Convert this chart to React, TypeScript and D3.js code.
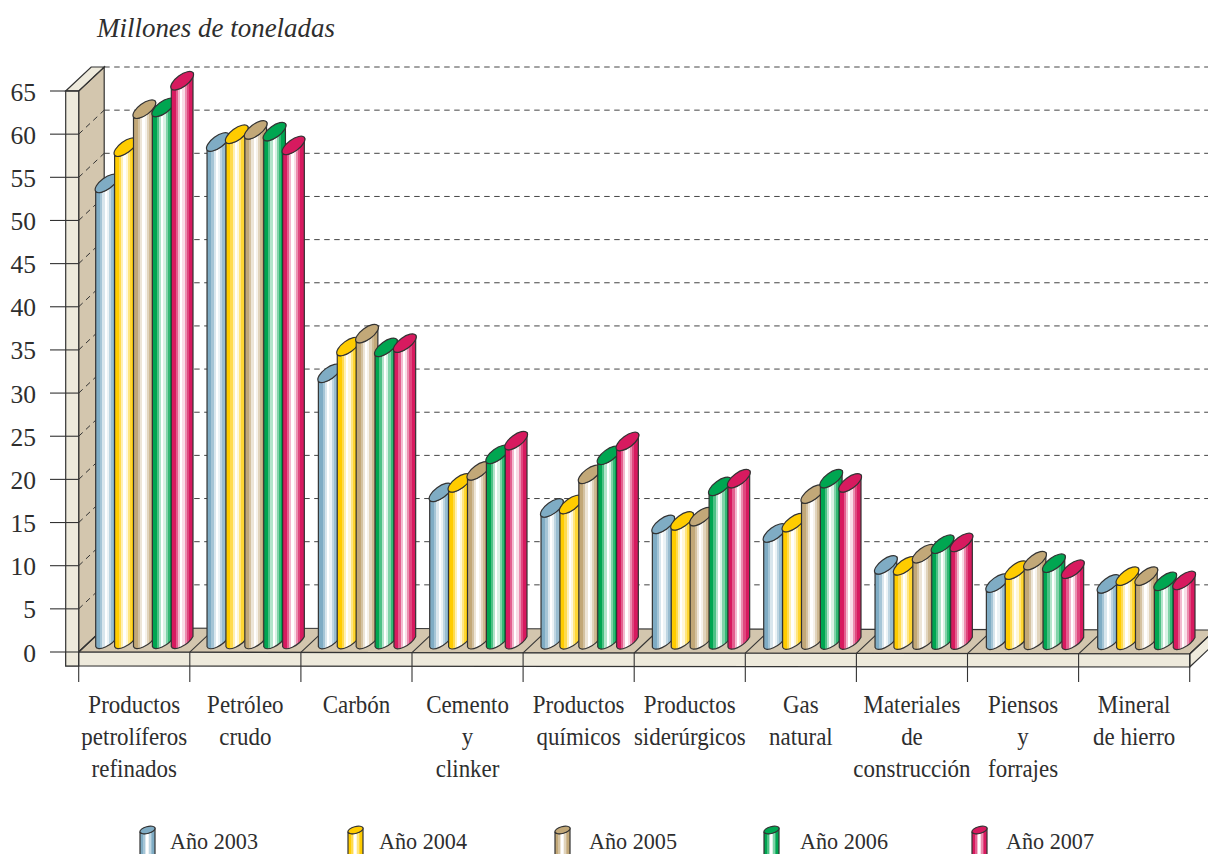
import React from "react";
import * as d3 from "d3";

const categories: string[][] = [
  ["Productos", "petrolíferos", "refinados"],
  ["Petróleo", "crudo"],
  ["Carbón"],
  ["Cemento", "y", "clinker"],
  ["Productos", "químicos"],
  ["Productos", "siderúrgicos"],
  ["Gas", "natural"],
  ["Materiales", "de", "construcción"],
  ["Piensos", "y", "forrajes"],
  ["Mineral", "de hierro"],
];
const years = ["Año 2003", "Año 2004", "Año 2005", "Año 2006", "Año 2007"];
const colors = ["#7FACC4", "#FFCC00", "#C2A878", "#00A651", "#D71A5F"];
const legendIconX = [140, 348, 555, 764, 972];
const legendTextX = [170, 379, 589, 800, 1006];

const v2003 = [52.9, 57.7, 30.9, 17.1, 15.3, 13.4, 12.4, 8.7, 6.6, 6.5];
const v2004 = [57.1, 58.6, 34.0, 18.2, 15.7, 13.8, 13.6, 8.6, 8.1, 7.4];
const v2005 = [61.5, 59.1, 35.5, 19.6, 19.2, 14.3, 16.9, 10.0, 9.2, 7.4];
const v2006 = [61.7, 58.9, 33.9, 21.5, 21.4, 17.8, 18.7, 11.1, 8.9, 6.8];
const v2007 = [64.8, 57.3, 34.4, 23.1, 23.0, 18.7, 18.2, 11.3, 8.2, 6.9];
const series = [v2003, v2004, v2005, v2006, v2007];
const yTicks = d3.range(0, 70, 5);

const W = 1208, H = 854;
const FONT = "'Liberation Serif', serif";
const INK = "#2e2e2e";
const y = d3.scaleLinear().domain([0, 65]).range([652, 91]);
const tickX = d3.scaleLinear().domain([0, 10]).range([78.7, 1189.7]);
const groupX = d3.scaleLinear().domain([0, 9]).range([95.7, 1097.7]);
const barBase = d3.scaleLinear().domain([0, 65]).range([648, 87]);
const DX = 25.5, DY = -24;
const BW = 21.7, STEP = 18.9, TILT = 16;
const bands = [0, 0, 0.3, 0.7, 1, 0.85, 0.5, 0.2, 0, 0];

function stops(color: string) {
  const out: React.ReactElement[] = [];
  const mix = d3.interpolateRgb(color, "#ffffff");
  bands.forEach((f, i) => {
    const c = mix(f);
    out.push(<stop key={i + "a"} offset={i / bands.length} stopColor={c} />);
    out.push(<stop key={i + "b"} offset={(i + 1) / bands.length} stopColor={c} />);
  });
  return out;
}

function Cyl({ x, top, bottom, w, tilt, rx, ry, i, dropL, dropR }: any) {
  const ang = (-Math.atan2(tilt, w) * 180) / Math.PI;
  const x1 = x + w;
  const body = `M${x},${top}L${x},${bottom - dropL}A${rx},${ry} ${ang} 0 0 ${x1},${bottom - dropR}L${x1},${top - tilt}A${rx},${ry} ${ang} 0 1 ${x},${top}Z`;
  return (
    <g stroke="#333" strokeWidth={1.2} strokeLinejoin="round">
      <path d={body} fill={`url(#g${i})`} />
      <ellipse
        cx={x + w / 2}
        cy={top - tilt / 2}
        rx={rx}
        ry={ry}
        fill={colors[i]}
        transform={`rotate(${ang} ${x + w / 2} ${top - tilt / 2})`}
      />
    </g>
  );
}

export default function App() {
  const x0 = tickX(0);
  const xEnd = tickX(10);
  const gridY = (t: number) => y(t) + DY;
  return (
    <svg
      width={W}
      height={H}
      viewBox={`0 0 ${W} ${H}`}
      style={{ position: "absolute", left: 0, top: 0, display: "block", background: "#fff" }}
    >
      <defs>
        {colors.map((c, i) => (
          <linearGradient id={`g${i}`} key={c} x1="0" x2="1" y1="0" y2="0">
            {stops(c)}
          </linearGradient>
        ))}
      </defs>

      <text
        transform="translate(97,37)"
        fontFamily={FONT}
        fontStyle="italic"
        fontSize={26.5}
        fill={INK}
        textLength={238}
        lengthAdjust="spacingAndGlyphs"
      >
        Millones de toneladas
      </text>

      {/* gridlines at the back */}
      {yTicks.slice(1).map((t) => (
        <line key={t} x1={x0 + DX} x2={W} y1={gridY(t)} y2={gridY(t)} stroke="#444" strokeWidth={1} strokeDasharray="5.5 4.5" />
      ))}

      {/* side wall */}
      <polygon
        points={`${x0},${y(65)} ${x0 + DX},${y(65) + DY} ${x0 + DX},${y(0) + DY} ${x0},${y(0)}`}
        fill="#D3C6AE"
        stroke="#333"
        strokeWidth={1.2}
      />
      <polygon
        points={`${x0 - 13},${y(65)} ${x0},${y(65)} ${x0 + DX},${y(65) + DY} ${x0 + DX - 13},${y(65) + DY}`}
        fill="#EEEADC"
        stroke="#333"
        strokeWidth={1.2}
      />
      {yTicks.slice(1).map((t) => (
        <line key={t} x1={x0} x2={x0 + DX} y1={y(t)} y2={gridY(t)} stroke="#333" strokeWidth={1} strokeDasharray="5.5 4.5" />
      ))}

      {/* floor */}
      <polygon
        points={`${x0},${y(0)} ${xEnd},${y(0) + 2} ${xEnd + DX},${y(0) + 2 + DY} ${x0 + DX},${y(0) + DY}`}
        fill="#D3C6AE"
        stroke="#333"
        strokeWidth={1.2}
      />
      <polygon
        points={`${xEnd},${y(0) + 2} ${xEnd + DX},${y(0) + 2 + DY} ${xEnd + DX},${y(0) + 15 + DY} ${xEnd},${y(0) + 15}`}
        fill="#EEEADC"
        stroke="#333"
        strokeWidth={1.2}
      />
      <polygon
        points={`${x0 - 13},${y(0)} ${xEnd},${y(0) + 2} ${xEnd},${y(0) + 15} ${x0 - 13},${y(0) + 14}`}
        fill="#EEEADC"
        stroke="#333"
        strokeWidth={1.2}
      />
      <rect x={x0 - 13} y={y(65)} width={13} height={y(0) - y(65) + 14} fill="#EEEADC" stroke="#333" strokeWidth={1.2} />

      {/* category ticks */}
      {d3.range(0, 11).map((i) => {
        const tx = tickX(i);
        const yy = y(0) + (2 * i) / 10;
        return (
          <g key={i} stroke="#333" strokeWidth={1.1}>
            <line x1={tx} x2={tx} y1={yy} y2={682} />
            <line x1={tx} x2={tx + DX} y1={yy} y2={yy + DY} />
          </g>
        );
      })}

      {/* value ticks */}
      {yTicks.map((t) => (
        <g key={t}>
          <line x1={50} x2={x0} y1={y(t)} y2={y(t)} stroke="#333" strokeWidth={1.1} />
          <text x={36} y={y(t) + 9.5} textAnchor="end" fontFamily={FONT} fontSize={25.5} fill={INK}>
            {t}
          </text>
        </g>
      ))}

      {/* bars */}
      {categories.map((_, c) =>
        series.map((vals, s) => (
          <Cyl
            key={`${c}-${s}`}
            i={s}
            x={groupX(c) + s * STEP}
            top={barBase(vals[c])}
            bottom={648.5 + (c / 9) * 1}
            w={BW}
            tilt={TILT}
            rx={13.5}
            ry={5.8}
            dropL={2}
            dropR={12}
          />
        ))
      )}

      {/* category labels */}
      {categories.map((lines, c) => (
        <g key={c}>
          {lines.map((ln, k) => (
            <text
              key={k}
              transform={`translate(${(tickX(c) + tickX(c + 1)) / 2},${713 + k * 32}) scale(0.9,1)`}
              textAnchor="middle"
              fontFamily={FONT}
              fontSize={25.5}
              fill={INK}
            >
              {ln}
            </text>
          ))}
        </g>
      ))}

      {/* legend */}
      {years.map((yr, i) => (
        <g key={yr}>
          <Cyl i={i} x={legendIconX[i]} top={832} bottom={880} w={15} tilt={4} rx={7.8} ry={3.4} dropL={2} dropR={6} />
          <text
            transform={`translate(${legendTextX[i]},849)`}
            fontFamily={FONT}
            fontSize={24}
            fill={INK}
            textLength={88}
            lengthAdjust="spacingAndGlyphs"
          >
            {yr}
          </text>
        </g>
      ))}
    </svg>
  );
}
